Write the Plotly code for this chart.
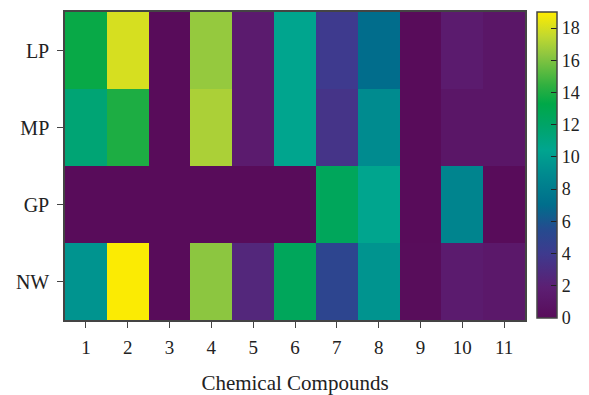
import plotly.graph_objects as go

compounds = ["1", "2", "3", "4", "5", "6", "7", "8", "9", "10", "11"]
samples = ["LP", "MP", "GP", "NW"]

LP = [13.5, 18.0, 0.0, 16.5, 1.5, 10.5, 4.0, 7.0, 0.0, 1.5, 1.0]
MP = [11.5, 14.0, 0.0, 17.0, 1.5, 10.5, 3.5, 9.0, 0.0, 1.0, 1.0]
GP = [0.0, 0.0, 0.0, 0.0, 0.0, 0.0, 12.5, 10.5, 0.0, 8.5, 0.0]
NW = [9.5, 18.9, 0.0, 16.3, 2.5, 12.5, 5.0, 9.5, 0.1, 1.5, 1.2]

z = [LP, MP, GP, NW]

colorscale = [
    [0.00, "#580c5a"],
    [0.10, "#5c1f73"],
    [0.21, "#3e3a8e"],
    [0.29, "#254b8f"],
    [0.37, "#006e8c"],
    [0.47, "#008a8f"],
    [0.55, "#00a58f"],
    [0.63, "#00a468"],
    [0.70, "#00a848"],
    [0.76, "#30b040"],
    [0.86, "#8ec640"],
    [0.92, "#c0d830"],
    [1.00, "#ffec00"],
]

font_family = "Liberation Serif, Times New Roman, serif"

fig = go.Figure(
    go.Heatmap(
        z=z,
        x=compounds,
        y=samples,
        colorscale=colorscale,
        zmin=0,
        zmax=19,
        hoverinfo="skip",
        colorbar=dict(
            x=1,
            xanchor="left",
            xpad=12,
            thickness=20,
            thicknessmode="pixels",
            lenmode="pixels",
            len=306,
            y=1,
            yanchor="top",
            ypad=0,
            outlinewidth=1.5,
            outlinecolor="#444444",
            tickvals=[0, 2, 4, 6, 8, 10, 12, 14, 16, 18],
            ticks="inside",
            ticklen=6,
            tickcolor="#222222",
            tickfont=dict(family=font_family, size=18, color="#222222"),
        ),
    )
)

fig.update_layout(
    width=589,
    height=395,
    margin=dict(l=65, r=64, t=12, b=75, autoexpand=False),
    paper_bgcolor="white",
    plot_bgcolor="white",
    font=dict(family=font_family, size=20, color="#222222"),
    xaxis=dict(
        title=dict(text="Chemical Compounds", font=dict(family=font_family, size=21, color="#222222"), standoff=23),
        ticks="outside",
        ticklen=6,
        tickcolor="#444444",
        showline=True,
        linecolor="#444444",
        linewidth=1.5,
        mirror=True,
        tickfont=dict(family=font_family, size=19),
        ticklabelstandoff=3,
        type="category",
        automargin=False,
    ),
    yaxis=dict(
        autorange="reversed",
        ticks="outside",
        ticklen=6,
        tickcolor="#444444",
        showline=True,
        linecolor="#444444",
        linewidth=1.5,
        mirror=True,
        tickfont=dict(family=font_family, size=20),
        ticklabelstandoff=4,
        type="category",
        automargin=False,
    ),
)

fig.write_html(
    "out.html",
    config={"displayModeBar": False},
    post_script="document.body.style.margin='0';",
)
